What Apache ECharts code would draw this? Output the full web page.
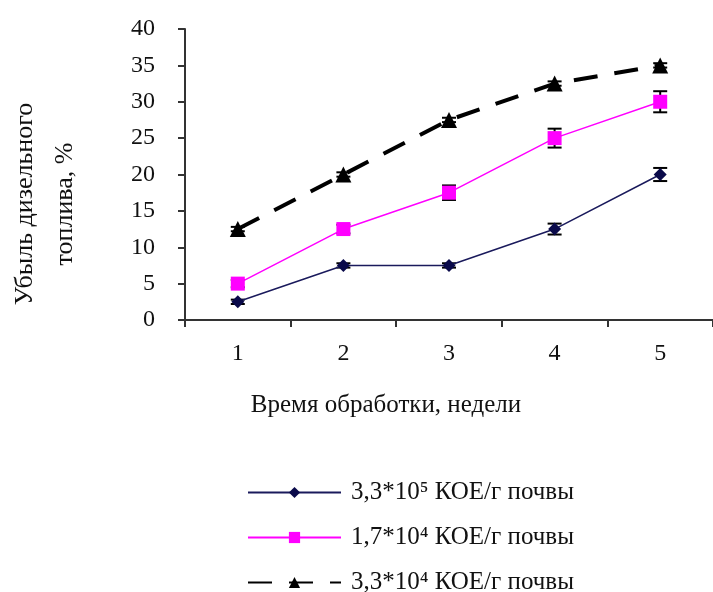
<!DOCTYPE html>
<html>
<head>
<meta charset="utf-8">
<script src="https://cdn.jsdelivr.net/npm/echarts@6/dist/echarts.min.js"></script>
<style>
  html, body { margin: 0; padding: 0; background: #fff; }
  #chart { width: 713px; height: 592px; }
</style>
</head>
<body>
<div id="chart"></div>
<script>
// Weeks of treatment
const weeks = ['1', '2', '3', '4', '5'];

// Series names
const seriesNames = [
  '3,3*10⁵ КОЕ/г почвы',
  '1,7*10⁴ КОЕ/г почвы',
  '3,3*10⁴ КОЕ/г почвы'
];

// Diesel fuel loss, %
const lowDose = [2.5, 7.5, 7.5, 12.5, 20];
const midDose = [5, 12.5, 17.5, 25, 30];
const highDose = [12.5, 20, 27.5, 32.5, 35];

// Error half-widths, %
const lowDoseErr = [0.3, 0.3, 0.3, 0.75, 0.9];
const midDoseErr = [0.5, 0.6, 1.0, 1.3, 1.45];
const highDoseErr = [0.3, 0.3, 0.3, 0.3, 0.3];

// Y axis range and step
const yMin = 0, yMax = 40, yStep = 5;

const FONT = '"Liberation Serif", "Times New Roman", serif';
const chart = echarts.init(document.getElementById('chart'), null, { renderer: 'canvas' });

function errorSeries(values, errs, color) {
  return {
    type: 'custom',
    z: 1,
    silent: true,
    data: values.map((v, i) => [i, v - errs[i], v + errs[i]]),
    renderItem: function (params, api) {
      const lo = api.coord([api.value(0), api.value(1)]);
      const hi = api.coord([api.value(0), api.value(2)]);
      const hw = 7;
      const style = { stroke: color, lineWidth: 2 };
      return {
        type: 'group',
        children: [
          { type: 'line', shape: { x1: lo[0], y1: lo[1], x2: hi[0], y2: hi[1] }, style },
          { type: 'line', shape: { x1: lo[0] - hw, y1: lo[1], x2: lo[0] + hw, y2: lo[1] }, style },
          { type: 'line', shape: { x1: hi[0] - hw, y1: hi[1], x2: hi[0] + hw, y2: hi[1] }, style }
        ]
      };
    }
  };
}

const option = {
  backgroundColor: '#ffffff',
  animation: false,
  textStyle: { fontFamily: FONT },
  grid: { left: 185, top: 29, width: 530, height: 291 },
  xAxis: {
    type: 'category',
    data: weeks,
    boundaryGap: true,
    axisLine: { lineStyle: { color: '#333', width: 2 } },
    axisTick: { show: true, length: 7, lineStyle: { color: '#333', width: 2 } },
    axisLabel: { color: '#111', fontFamily: FONT, fontSize: 24, margin: 22 },
    splitLine: { show: false }
  },
  yAxis: {
    type: 'value',
    min: yMin,
    max: yMax,
    interval: yStep,
    axisLine: { show: true, lineStyle: { color: '#333', width: 2 } },
    axisTick: { show: true, length: 7, lineStyle: { color: '#333', width: 2 } },
    axisLabel: { color: '#111', fontFamily: FONT, fontSize: 24, margin: 30 },
    splitLine: { show: false }
  },
  legend: {
    orient: 'vertical',
    left: 247,
    top: 480,
    height: 200,
    padding: 0,
    itemWidth: 93,
    itemHeight: 14,
    itemGap: 20,
    data: seriesNames,
    textStyle: {
      color: '#111',
      fontFamily: FONT,
      fontSize: 25,
      padding: [0, 0, 0, 5]
    }
  },
  graphic: [
    {
      type: 'text',
      x: 45,
      y: 204,
      rotation: Math.PI / 2,
      style: {
        text: 'Убыль дизельного\nтоплива, %',
        font: '26px ' + FONT,
        fill: '#111',
        align: 'center',
        verticalAlign: 'middle',
        lineHeight: 40
      }
    },
    {
      type: 'text',
      x: 386,
      y: 405,
      style: {
        text: 'Время обработки, недели',
        font: '25px ' + FONT,
        fill: '#111',
        align: 'center',
        verticalAlign: 'middle'
      }
    }
  ],
  series: [
    errorSeries(lowDose, lowDoseErr, '#000'),
    errorSeries(midDose, midDoseErr, '#000'),
    errorSeries(highDose, highDoseErr, '#000'),
    {
      name: seriesNames[0],
      type: 'line',
      z: 3,
      data: lowDose,
      symbol: 'diamond',
      symbolSize: 13,
      itemStyle: { color: '#0a0a4a' },
      lineStyle: { color: '#1a1a5c', width: 1.5 }
    },
    {
      name: seriesNames[1],
      type: 'line',
      z: 3,
      data: midDose,
      symbol: 'rect',
      symbolSize: 14,
      itemStyle: { color: '#ff00ff' },
      lineStyle: { color: '#ff00ff', width: 1.5 }
    },
    {
      name: seriesNames[2],
      type: 'line',
      z: 3,
      data: highDose,
      symbol: 'triangle',
      symbolSize: 16,
      itemStyle: { color: '#000' },
      lineStyle: { color: '#000', width: 4, type: [24, 17] }
    }
  ]
};

chart.setOption(option);
</script>
</body>
</html>
